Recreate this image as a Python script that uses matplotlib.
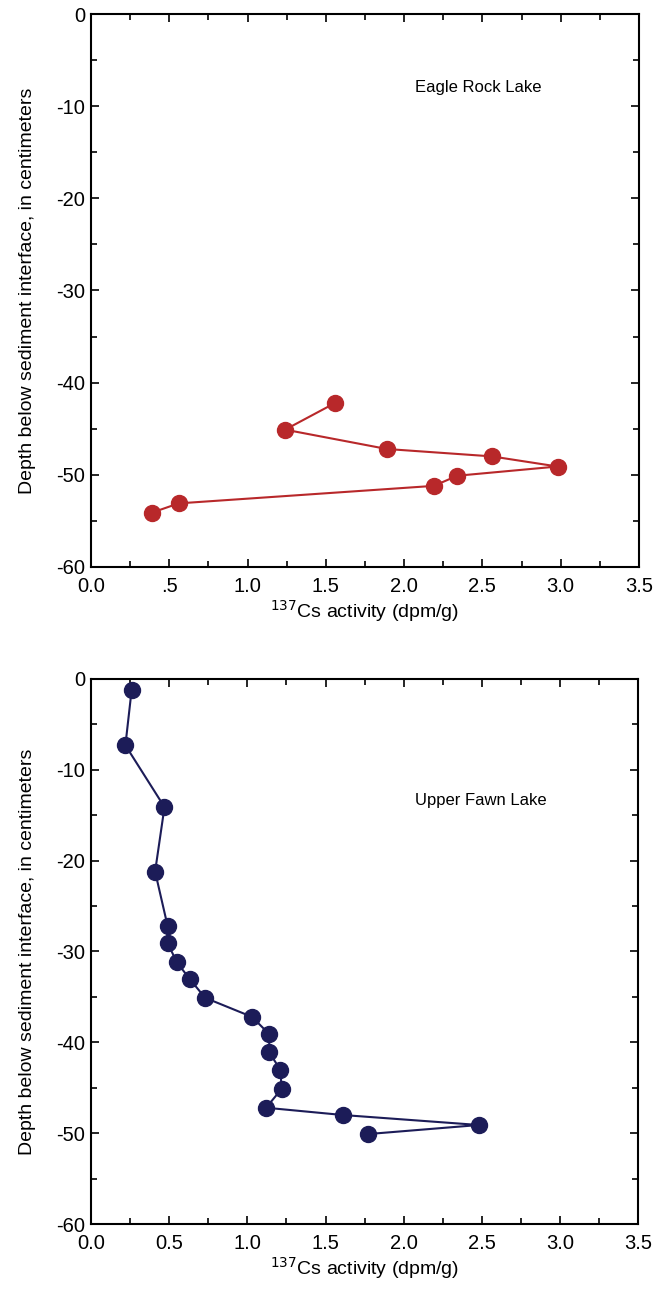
import matplotlib
matplotlib.use('Agg')
import matplotlib.pyplot as plt
from matplotlib.ticker import MultipleLocator, FixedLocator

plt.rcParams['font.family'] = ['Liberation Sans', 'DejaVu Sans']

# Eagle Rock Lake
eagle_cs = [1.56, 1.24, 1.89, 2.56, 2.98, 2.34, 2.19, 0.56, 0.39]
eagle_depth = [-42.2, -45.1, -47.2, -48.0, -49.1, -50.1, -51.2, -53.1, -54.1]

# Upper Fawn Lake
fawn_cs = [0.26, 0.22, 0.47, 0.41, 0.49, 0.49, 0.55, 0.63, 0.73, 1.03, 1.14,
           1.14, 1.21, 1.22, 1.12, 1.61, 2.48, 1.77]
fawn_depth = [-1.2, -7.3, -14.1, -21.2, -27.2, -29.1, -31.2, -33.0, -35.1, -37.2,
              -39.1, -41.1, -43.0, -45.1, -47.2, -48.0, -49.1, -50.1]

xticks = [0.0, 0.5, 1.0, 1.5, 2.0, 2.5, 3.0, 3.5]
top_xlabels = ['0.0', '.5', '1.0', '1.5', '2.0', '2.5', '3.0', '3.5']
bot_xlabels = ['0.0', '0.5', '1.0', '1.5', '2.0', '2.5', '3.0', '3.5']
yticks = [0, -10, -20, -30, -40, -50, -60]

fig = plt.figure(figsize=(6.57, 12.98), dpi=100)
ax1 = fig.add_axes([0.1385, 0.5632, 0.834, 0.426])
ax2 = fig.add_axes([0.1385, 0.0570, 0.833, 0.4199])


def style(ax, xlabels):
    ax.set_xlim(0, 3.5)
    ax.set_ylim(-60, 0)
    ax.xaxis.set_major_locator(FixedLocator(xticks))
    ax.set_xticklabels(xlabels, fontsize=14.5)
    ax.xaxis.set_minor_locator(MultipleLocator(0.25))
    ax.set_yticks(yticks)
    ax.set_yticklabels([str(v) for v in yticks], fontsize=14.5)
    ax.yaxis.set_minor_locator(MultipleLocator(5))
    ax.tick_params(which='both', direction='in', top=True, right=True, width=1.2)
    ax.tick_params(which='major', length=6)
    ax.tick_params(axis='x', which='major', pad=7)
    ax.tick_params(axis='y', which='major', pad=4)
    ax.tick_params(which='minor', length=4)
    for s in ax.spines.values():
        s.set_linewidth(1.5)
    ax.set_xlabel(r'$^{137}$Cs activity (dpm/g)', fontsize=14, labelpad=2)
    ax.set_ylabel('Depth below sediment interface, in centimeters', fontsize=14, labelpad=15)


ax1.plot(eagle_cs, eagle_depth, '-o', color='#b8282a', lw=1.5, markersize=11.5)
ax1.text(2.07, -8.0, 'Eagle Rock Lake', fontsize=12, va='center')
style(ax1, top_xlabels)

ax2.plot(fawn_cs, fawn_depth, '-o', color='#1c1c58', lw=1.5, markersize=11.5)
ax2.text(2.07, -13.4, 'Upper Fawn Lake', fontsize=12, va='center')
style(ax2, bot_xlabels)

plt.savefig('out.png', dpi=100)
plt.close()
